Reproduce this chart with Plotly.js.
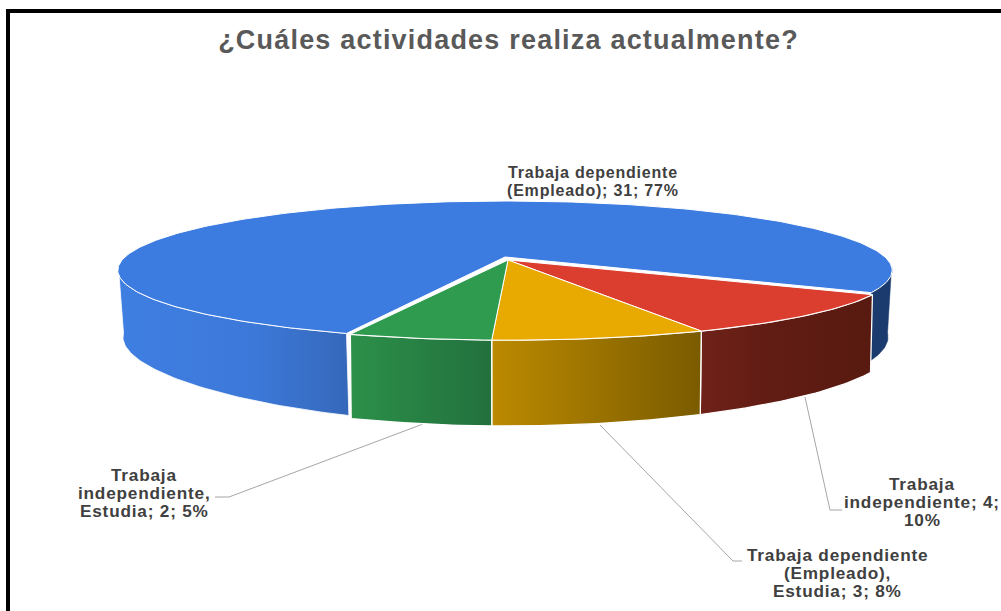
<!DOCTYPE html>
<html>
<head>
<meta charset="utf-8">
<script src="https://cdn.plot.ly/plotly-3.0.1.min.js"></script>
<style>
html,body{margin:0;padding:0;background:#fff}
#c{width:1001px;height:611px}
.annotation-text{letter-spacing:.8px}
.gtitle{letter-spacing:1.2px}
</style>
</head>
<body>
<div id="c"></div>
<script>
// ---- data ----
const chartTitle = "¿Cuáles actividades realiza actualmente?";
const categories = ["Trabaja dependiente (Empleado)", "Trabaja independiente", "Trabaja dependiente (Empleado), Estudia", "Trabaja independiente, Estudia"];
const counts = [31, 4, 3, 2];
const percents = [77, 10, 8, 5];
const labelLines = [
  ["Trabaja dependiente", "(Empleado); {v}; {p}%"],
  ["Trabaja", "independiente; {v};", "{p}%"],
  ["Trabaja dependiente", "(Empleado),", "Estudia; {v}; {p}%"],
  ["Trabaja", "independiente,", "Estudia; {v}; {p}%"]
];
// ---- styling ----
const topColors = ["#3c7be0", "#db3e2e", "#e8a900", "#2f9b4e"];
const wallGradients = [
  [[0, "#3f7fe2"], [0.6, "#3c78d8"], [1, "#3568ba"]],
  [[0, "#6f2219"], [0.4, "#611c13"], [1, "#581a10"]],
  [[0, "#bc8a00"], [1, "#7a5b00"]],
  [[0, "#2c9049"], [1, "#22703d"]]
];
const blueBackWall = "#1b3a6e";
const labelPos = [[593, [172, 190]], [922, [484, 502, 520]], [837, [555, 573, 591]], [144, [474.5, 492.5, 510.5]]];
const labelSizes = [16, 17.2, 17.2, 17.2];
const leaders = [null, [[805, 397], [830, 510], [842, 510]], [[600, 425], [733, 561], [742, 561]], [[423, 424], [229, 497], [215, 497]]];
// ---- projection of the tilted disc ----
const startDeg = 200, P = 0.1915;
const topBlue = {x: 505, y: 257, sx: 380, k: 66.7};
const topRest = {x: 508, y: 260, sx: 378, k: 64.8};
const botBlue = {x: 505.5, y: 322.6, sx: 375.5, k: 71, p: 0.3};
const botRest = {x: 508, y: 337.4, sx: 376, k: 62, p: 0.3};
const rad = d => d * Math.PI / 180;
function pt(g, deg) {
  const s = Math.sin(rad(deg)), c = Math.cos(rad(deg));
  const py = g.p === undefined ? P : g.p;
  return [g.x + g.sx * s / (1 + P * c), g.y - g.k * c / (1 + py * c)];
}
function arc(g, a, b) {
  const n = Math.max(2, Math.ceil(Math.abs(b - a))), out = [];
  for (let i = 0; i <= n; i++) out.push(pt(g, a + (b - a) * i / n));
  return out;
}
const total = counts.reduce((a, b) => a + b, 0);
const spans = [];
let cursor = startDeg;
counts.forEach(v => { const e = cursor + v / total * 360; spans.push([cursor, e]); cursor = e; });
const norm = d => ((d % 360) + 360) % 360;

function poly(points, style) {
  const pts = points.concat([points[0]]);
  return Object.assign({
    type: "scatter", mode: "lines", x: pts.map(p => p[0]), y: pts.map(p => p[1]),
    fill: "toself", hoverinfo: "skip", showlegend: false
  }, style);
}
function gradient(stops) {
  return {type: "horizontal", colorscale: stops};
}
const traces = [];
// leader lines
leaders.forEach(l => {
  if (!l) return;
  traces.push({type: "scatter", mode: "lines", x: l.map(p => p[0]), y: l.map(p => p[1]),
    line: {color: "#a6a6a6", width: 1}, hoverinfo: "skip", showlegend: false});
});
// walls of the big slice: it wraps behind the others
const [b0, b1] = spans[0];
const wrapEnd = norm(b1);
traces.push(poly(arc(topBlue, b0, 262).concat(arc(botBlue, 262, b0)),
  {fillgradient: gradient(wallGradients[0]), line: {color: "#ffffff", width: 0.8}}));
traces.push(poly(arc(topBlue, 98, wrapEnd).concat(arc(botBlue, wrapEnd, 98)),
  {fillcolor: blueBackWall, line: {color: blueBackWall, width: 0.5}}));
// walls of the small slices
[1, 2, 3].forEach(i => {
  const a = norm(spans[i][0]), b = a + (spans[i][1] - spans[i][0]);
  traces.push(poly(arc(topRest, a, b).concat(arc(botRest, b, a)),
    {fillgradient: gradient(wallGradients[i]), line: {color: "#ffffff", width: 1.3}}));
});
// top faces
traces.push(poly([[topBlue.x, topBlue.y]].concat(arc(topBlue, b0, b1)),
  {fillcolor: topColors[0], line: {color: "#ffffff", width: 1}}));
[1, 2, 3].forEach(i => {
  traces.push(poly([[topRest.x, topRest.y]].concat(arc(topRest, spans[i][0], spans[i][1])),
    {fillcolor: topColors[i], line: {color: "#ffffff", width: 1}}));
});

const annotations = [];
categories.forEach((c, i) => {
  labelLines[i].forEach((line, j) => {
    annotations.push({
      x: labelPos[i][0], y: labelPos[i][1][j], xref: "x", yref: "y", showarrow: false,
      xanchor: "center", yanchor: "middle", align: "center",
      text: line.replace("{v}", counts[i]).replace("{p}", percents[i]),
      font: {family: "Liberation Sans, Arial, sans-serif", size: labelSizes[i], color: "#404040", weight: 700}
    });
  });
});

Plotly.newPlot("c", traces, {
  width: 1001, height: 611, margin: {l: 0, r: 0, t: 0, b: 0},
  paper_bgcolor: "#ffffff", plot_bgcolor: "#ffffff", showlegend: false,
  title: {text: chartTitle, x: 0.508, xanchor: "center", y: 0.935, yanchor: "middle",
    font: {family: "Liberation Sans, Arial, sans-serif", size: 27, color: "#595959", weight: 700}},
  xaxis: {range: [0, 1001], visible: false, fixedrange: true},
  yaxis: {range: [611, 0], visible: false, fixedrange: true},
  shapes: [{type: "rect", xref: "x", yref: "y", x0: 8, y0: 11, x1: 1020, y1: 640, line: {color: "#000000", width: 4}, layer: "above"}],
  annotations: annotations
}, {displayModeBar: false, staticPlot: true});
</script>
</body>
</html>
